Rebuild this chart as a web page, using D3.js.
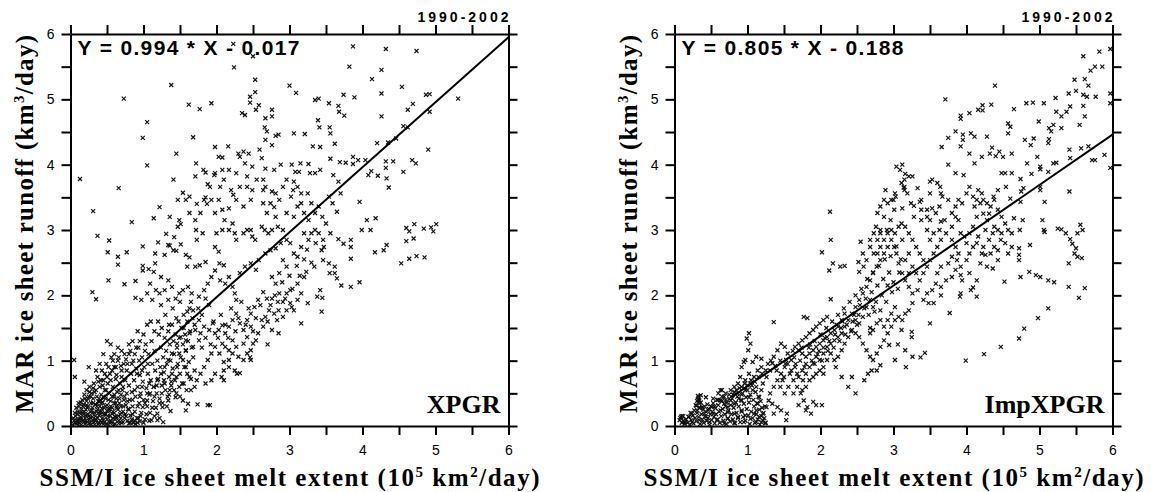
<!DOCTYPE html>
<html><head><meta charset="utf-8">
<script src="https://cdn.jsdelivr.net/npm/d3@7"></script>
<style>body{margin:0;background:#fff}svg{display:block}</style>
</head><body>
<svg id="c" width="1156" height="492"></svg>
<script>
// ---------- data ----------
const axisTicks = [0,1,2,3,4,5,6];
const minorTicks = [0,0.5,1,1.5,2,2.5,3,3.5,4,4.5,5,5.5,6];
const periodLabel = "1990-2002";
const panelNames = ["XPGR","ImpXPGR"];
const equations = ["Y = 0.994 * X - 0.017","Y = 0.805 * X - 0.188"];
const fitLineXPGR = [[0.34,0.32],[6,5.95]];
const fitLineImp = [[0.78,0.44],[6,4.46]];

const xpgr = [
[2.23,5.85],[2.50,5.66],[3.87,5.81],[4.32,5.77],[4.74,5.74],[2.24,5.49],[3.82,5.50],[1.38,5.22],[2.53,5.30],[2.53,5.11],
[3.00,5.21],[3.09,5.10],[4.13,5.31],[4.26,5.45],[4.26,5.09],[4.54,5.19],[4.87,5.07],[4.92,5.08],[5.31,5.01],[0.73,5.01],
[1.62,4.92],[1.93,4.94],[1.77,4.85],[2.46,5.04],[2.46,4.95],[2.58,4.91],[2.54,4.84],[2.76,4.84],[2.76,4.74],[2.67,4.71],
[2.35,4.79],[2.39,4.76],[3.35,4.99],[3.40,5.01],[3.54,4.94],[3.67,4.90],[3.68,4.81],[3.74,5.07],[3.75,4.75],[3.89,5.03],
[4.26,4.74],[4.62,4.84],[4.69,4.93],[4.56,4.59],[4.62,4.57],[4.92,4.81],[4.46,4.40],[4.35,4.34],[4.90,4.23],[1.05,4.65],
[0.99,4.41],[1.05,3.99],[1.68,4.42],[1.45,4.17],[0.13,3.78],[0.66,3.64],[0.31,3.29],[0.37,2.91],[0.53,2.84],[0.51,2.66],
[0.65,2.59],[0.77,2.66],[0.65,2.47],[0.30,2.05],[0.35,1.94],[0.52,2.23],[0.74,2.17],[0.84,3.12],[0.99,2.75],[0.89,2.22],
[0.89,1.96],[0.99,2.38],[0.99,2.45],[1.07,2.40],[1.20,2.81],[1.22,3.35],[1.14,3.18],[1.36,3.20],[1.31,2.94],[1.42,2.89],
[1.41,2.69],[1.45,2.68],[1.36,2.76],[1.41,3.77],[1.47,3.46],[1.47,3.05],[1.51,3.09],[1.54,3.57],[1.58,3.46],[1.63,3.51],
[1.71,3.82],[1.72,4.02],[1.82,3.92],[1.85,3.50],[1.88,3.70],[1.87,3.40],[1.85,3.88],[1.97,3.84],[1.98,4.27],[2.03,4.12],
[2.08,4.11],[2.16,4.28],[2.05,3.66],[2.10,3.77],[2.20,3.61],[2.23,3.54],[2.30,4.17],[2.32,4.12],[2.37,4.20],[2.44,4.17],
[2.39,4.02],[2.49,3.97],[2.55,3.77],[2.64,3.77],[2.62,4.10],[2.67,3.94],[2.59,4.23],[2.67,4.38],[2.69,4.51],[2.66,4.57],
[2.76,4.30],[2.81,4.44],[2.85,4.46],[2.67,3.66],[2.64,3.61],[2.76,3.59],[2.79,3.92],[2.88,4.00],[3.06,4.48],[3.03,4.00],
[3.06,3.74],[3.05,3.61],[3.02,3.51],[3.08,3.89],[3.13,3.89],[3.15,4.02],[3.21,4.47],[3.26,4.01],[3.28,3.87],[3.32,4.28],
[3.35,3.87],[3.42,4.27],[3.39,4.68],[3.41,4.57],[3.42,3.92],[3.55,4.57],[3.56,4.48],[3.56,4.09],[3.62,4.32],[3.60,3.84],
[3.67,3.74],[3.70,3.56],[3.59,3.41],[3.65,3.28],[3.54,3.51],[3.69,4.04],[3.77,4.03],[3.87,4.12],[3.87,4.01],[3.94,4.07],
[3.96,3.43],[4.04,4.07],[4.08,3.84],[4.12,3.90],[4.21,3.83],[4.20,4.33],[4.32,4.05],[4.32,3.95],[4.42,4.05],[4.36,3.65],
[4.33,3.79],[4.56,3.89],[4.68,4.07],[4.73,4.02],[4.06,3.15],[4.18,3.18],[4.11,3.00],[3.99,3.00],[4.17,2.66],[4.29,2.69],
[4.33,2.77],[4.53,2.49],[4.60,2.83],[4.60,3.03],[4.64,2.98],[4.71,3.09],[4.70,2.87],[4.64,2.56],[4.74,2.60],[4.84,3.02],
[4.85,2.58],[4.94,3.04],[4.97,2.98],[5.01,3.09],[3.84,2.85],[3.84,2.74],[3.84,2.56],[3.84,2.13],[3.96,2.20],[3.74,2.79],
[3.67,2.86],[3.71,2.15],[3.62,2.44],[3.62,2.34],[3.65,2.26],[3.55,2.34],[3.54,2.49],[3.46,2.54],[3.44,2.69],[3.47,2.74],
[3.42,2.08],[3.45,1.96],[3.44,1.75],[3.38,1.98],[3.25,1.88],[3.16,1.57],[3.20,2.28],[3.23,2.36],[3.34,2.44],[3.01,1.88],
[3.03,1.82],[2.91,1.90],[2.85,1.77],[2.79,1.72],[2.69,1.95],[2.76,1.95],[2.85,1.42],[2.70,1.25],[2.54,1.31],[2.47,1.16],
[2.46,1.05],[2.47,1.01],[2.32,0.81],[2.28,0.80],[2.25,0.85],[2.17,0.90],[2.10,0.98],[2.04,1.11],[2.10,0.85],[1.91,0.32],
[1.88,0.32],[1.74,0.33],[1.58,0.24],[1.61,0.34],[1.37,0.23],[1.27,0.06],[1.19,0.09],[1.11,0.09],[0.95,0.07],[0.05,1.01],
[0.06,0.75],[0.25,0.90],[0.19,0.68],
[1.58,2.62],[1.63,2.58],[1.60,2.44],[1.71,2.44],[1.77,2.46],[1.85,2.51],[1.98,2.74],[2.03,2.67],[2.04,2.49],[2.10,2.46],
[2.00,2.95],[2.08,3.00],[2.11,3.15],[2.17,3.00],[2.22,3.10],[2.25,2.95],[2.27,2.85],[2.37,2.95],[2.42,3.00],[2.47,3.00],
[2.49,2.90],[2.53,2.85],[2.62,3.05],[2.66,3.00],[2.71,2.95],[2.76,3.00],[2.84,3.05],[2.91,3.00],[2.96,3.26],[2.81,3.20],
[2.79,3.35],[2.69,3.26],[2.64,3.41],[2.74,3.41],[2.47,3.46],[2.37,3.36],[2.27,3.46],[2.17,3.33],[2.08,3.31],[1.98,3.26],
[1.78,3.26],[1.71,3.15],[1.72,3.00],[1.73,2.85],[1.81,2.95],[1.73,3.40],[1.63,3.26],[1.49,3.15],[1.51,2.78],[1.34,2.77],
[1.29,2.62],[1.16,2.64],[1.16,2.49],[1.14,2.36],[1.24,2.28],[1.34,2.23],[1.39,2.13],[1.29,2.08],[1.22,2.03],[1.09,2.18],
[1.17,2.08],[1.05,2.03],[0.97,1.93],[1.12,1.93],[1.24,1.85],[1.34,1.93],[1.44,1.95],[1.49,2.03],[1.54,2.08],[1.61,2.13],
[1.66,2.03],[1.76,1.98],[1.83,2.08],[1.88,2.18],[1.93,2.28],[1.98,2.38],[2.05,2.23],[2.12,2.18],[2.17,2.28],[2.22,2.13],
[2.25,2.03],[2.27,1.93],[2.32,2.34],[2.39,2.44],[2.47,2.49],[2.54,2.39],[2.58,2.54],[2.67,2.64],[2.74,2.69],[2.81,2.72],
[2.88,2.80],[2.96,2.85],[3.01,2.80],[3.06,2.64],[3.11,2.59],[3.16,2.74],[3.20,2.95],[3.26,2.85],[3.30,2.95],[3.35,3.00],
[3.26,3.15],[3.20,3.26],[3.16,3.41],[3.11,3.36],[3.06,3.20],[3.35,3.26],[3.40,3.36],[3.45,3.20],[3.30,3.41],[3.25,3.56],
[3.16,3.56],[3.11,3.66],[2.96,3.77],[2.91,3.66],[2.86,3.46],[2.81,3.56],[2.49,3.61],[2.42,3.66],[2.32,3.66],[2.42,3.82],
[2.27,3.87],[2.17,3.92],[2.08,3.92],[1.98,3.87],[1.91,3.66],[1.83,3.46],[1.93,3.46],[2.03,3.46],
[1.68,1.77],[1.76,1.62],[1.83,1.52],[1.90,1.47],[1.95,1.57],[1.98,1.42],[2.03,1.47],[2.08,1.54],[2.12,1.42],[2.17,1.52],
[2.22,1.62],[2.27,1.72],[2.32,1.57],[2.37,1.47],[2.42,1.62],[2.47,1.72],[2.52,1.82],[2.57,1.93],[2.62,1.62],[2.67,1.67],
[2.72,1.77],[2.47,1.52],[2.42,1.36],[2.37,1.26],[2.27,1.21],[2.22,1.31],[2.17,1.16],[2.12,1.21],[2.08,1.26],[1.98,1.21],
[1.93,1.11],[1.88,1.01],[1.83,0.90],[1.78,0.80],[1.73,0.70],[1.70,0.60],[1.63,0.75],[1.58,0.90],[1.54,1.01],[1.49,1.11],
[1.58,1.16],[1.68,1.21],[1.76,1.31],[1.78,1.42],[1.71,1.47],[1.63,1.42],[1.58,1.31],[1.51,1.36],[1.46,1.26],[1.39,1.11],
[1.34,1.01],[1.29,0.90],[1.24,0.80],[1.19,0.70],[1.14,0.60],[1.09,0.50],[1.05,0.39],[0.99,0.29],[1.29,0.65],[1.36,0.55],
[1.44,0.44],[1.49,0.60],[1.54,0.39],[1.34,0.39],[1.26,0.29],[1.19,0.19],[1.39,0.80],[1.46,0.90],[2.07,0.75],[2.10,0.70],
[1.98,0.80],[1.93,0.70],[1.85,0.65],[2.17,1.01],[2.22,1.11],[2.30,1.06],[2.37,1.01],[2.42,1.11],[2.50,1.26],[2.57,1.42],
[2.64,1.52],[2.76,1.47],[2.83,1.62],[2.91,1.67],[2.96,1.77],[3.06,1.77],[3.11,1.93],[3.16,2.03],[3.11,2.18],[3.01,2.08],
[2.96,2.03],[2.86,2.03],[2.81,2.18],[2.76,2.28],[2.86,2.34],[2.96,2.44],[2.91,2.54],
[0.03,0.02],[0.05,0.08],[0.07,0.15],[0.08,0.04],[0.10,0.10],[0.10,0.22],[0.12,0.05],[0.12,0.30],[0.14,0.14],[0.15,0.02],
[0.15,0.25],[0.16,0.40],[0.17,0.08],[0.18,0.18],[0.18,0.33],[0.19,0.48],[0.20,0.03],[0.20,0.12],[0.21,0.25],[0.22,0.38],
[0.22,0.55],[0.23,0.06],[0.24,0.18],[0.24,0.30],[0.25,0.45],[0.26,0.10],[0.26,0.60],[0.27,0.22],[0.28,0.35],[0.28,0.02],
[0.29,0.50],[0.30,0.14],[0.30,0.28],[0.31,0.42],[0.32,0.06],[0.32,0.65],[0.33,0.20],[0.34,0.33],[0.35,0.55],[0.35,0.10],
[0.36,0.45],[0.37,0.25],[0.37,0.75],[0.38,0.03],[0.38,0.38],[0.39,0.16],[0.40,0.60],[0.40,0.30],[0.41,0.08],[0.42,0.48],
[0.42,0.22],[0.43,0.85],[0.44,0.36],[0.44,0.12],[0.45,0.70],[0.46,0.28],[0.46,0.04],[0.47,0.55],[0.48,0.18],[0.48,0.42],
[0.49,0.95],[0.50,0.10],[0.50,0.32],[0.51,0.65],[0.52,0.24],[0.52,0.02],[0.53,0.50],[0.54,0.15],[0.54,0.80],[0.55,0.38],
[0.56,0.06],[0.56,1.05],[0.57,0.28],[0.58,0.60],[0.58,0.12],[0.59,0.45],[0.60,0.20],[0.60,0.90],[0.61,0.03],[0.62,0.35],
[0.62,0.72],[0.63,0.14],[0.64,0.52],[0.65,0.25],[0.65,1.00],[0.66,0.08],[0.67,0.42],[0.68,0.65],[0.68,0.18],[0.69,0.30],
[0.70,0.85],[0.70,0.05],[0.71,0.55],[0.72,0.22],[0.73,0.40],[0.74,1.10],[0.74,0.12],[0.75,0.70],[0.76,0.32],[0.77,0.50],
[0.78,0.08],[0.78,0.95],[0.79,0.26],[0.80,0.62],[0.81,0.40],[0.82,0.16],[0.82,1.15],[0.83,0.80],[0.84,0.52],[0.85,0.30],
[0.86,0.05],[0.86,1.00],[0.87,0.70],[0.88,0.22],[0.89,0.45],[0.90,0.88],[0.91,0.12],[0.92,0.60],[0.93,1.20],[0.94,0.35],
[0.95,0.78],[0.96,0.50],[0.97,0.20],[0.98,1.05],[0.99,0.68],[1.00,0.40],[1.01,0.90],[1.02,0.10],[1.03,1.25],[1.04,0.58],
[1.05,0.30],[1.06,0.80],[1.07,1.10],[1.08,0.48],[1.09,0.20],[1.10,0.70],[1.11,1.30],[1.12,0.95],[1.13,0.38],[1.14,0.60],
[1.15,1.15],[1.16,0.85],[1.17,0.28],[1.18,0.50],[1.19,1.00],[1.20,0.72],[1.21,1.40],[1.22,0.42],[1.23,0.90],[1.24,1.20],
[1.25,0.62],[1.26,0.35],[1.27,1.05],[1.28,0.82],[1.29,1.35],[1.30,0.55],[1.31,1.15],[1.32,0.95],[1.33,0.45],[1.34,1.45],
[1.35,0.75],[1.36,1.25],[1.37,1.00],[1.38,0.62],[1.39,1.55],[1.40,0.88],[1.41,1.30],[1.42,1.10],[1.43,0.70],[1.44,1.40],
[1.45,0.50],[1.46,1.20],[1.47,0.95],[1.48,1.60],[1.49,1.35],[1.50,0.80],[1.51,1.05],[1.52,1.50],[1.53,0.65],[1.54,1.25],
[1.55,1.70],[1.56,0.90],[1.57,1.40],[1.58,1.15],[1.59,0.55],[1.60,1.60],[1.61,1.30],[1.62,0.98],[1.63,1.80],[1.64,1.45],
[1.65,0.72],[1.66,1.20],[1.67,1.65],[1.68,1.05],
[0.06,0.05],[0.09,0.18],[0.11,0.02],[0.13,0.10],[0.16,0.20],[0.19,0.07],[0.21,0.16],[0.23,0.28],[0.25,0.04],[0.27,0.13],
[0.29,0.24],[0.31,0.09],[0.33,0.02],[0.34,0.15],[0.36,0.22],[0.39,0.05],[0.41,0.18],[0.43,0.27],[0.45,0.09],[0.47,0.20],
[0.49,0.03],[0.51,0.15],[0.53,0.26],[0.55,0.08],[0.57,0.19],[0.59,0.02],[0.61,0.14],[0.63,0.30],[0.66,0.04],[0.69,0.12],
[0.72,0.06],[0.75,0.18],[0.80,0.04],[0.84,0.10],[0.89,0.03],[0.93,0.12],[0.14,0.36],[0.20,0.42],[0.26,0.52],[0.31,0.58],
[0.38,0.68],[0.44,0.62],[0.50,0.75],[0.57,0.85],[0.63,0.78],[0.69,0.92],[0.76,1.02],[0.72,0.60],[0.66,0.55],[0.60,0.48],
[1.80,1.20],[1.85,1.35],[1.92,1.25],[1.96,1.60],[2.02,1.35],[2.06,1.70],[2.12,1.55],[2.16,1.35],[2.20,1.80],[2.26,1.45],
[2.30,1.65],[2.34,1.90],[2.40,1.55],[2.44,1.80],[2.50,1.45],[2.54,1.65],[2.60,1.85],[2.64,2.05],[2.70,1.60],[2.74,1.85],
[2.80,2.00],[2.84,1.90],[2.90,2.20],[2.94,1.95],[3.00,2.30],[3.04,2.10],[3.10,2.45],[3.14,2.30],[3.20,2.55],[3.24,2.70],
[3.30,2.50],[3.36,2.80],[3.40,2.95],[3.46,2.85],[3.50,3.10],[3.56,2.95],
[1.20,1.60],[1.25,1.50],[1.30,1.70],[1.35,1.55],[1.40,1.80],[1.45,1.65],[1.50,1.90],[1.55,1.50],[1.60,1.75],[1.65,1.90],
[1.70,1.55],[1.75,1.80],[1.80,1.70],[1.85,1.95],[1.90,1.85],
[1.00,1.40],[1.05,1.55],[0.95,1.30],[0.90,1.20],[0.85,1.30],[0.80,1.25],[0.92,1.45],[1.10,1.60],[1.15,1.45],[0.70,1.15],
[0.65,1.20],[0.60,1.10],[0.55,1.25],[0.50,1.30],[0.45,1.10],
[0.04,0.12],[0.06,0.20],[0.08,0.28],[0.09,0.08],[0.11,0.35],[0.13,0.20],[0.15,0.12],[0.17,0.30],[0.19,0.22],[0.21,0.08],
[0.22,0.32],[0.24,0.42],[0.25,0.15],[0.27,0.05],[0.28,0.45],[0.30,0.20],[0.31,0.35],[0.33,0.52],[0.34,0.08],[0.36,0.30],
[0.37,0.12],[0.39,0.42],[0.40,0.22],[0.42,0.35],[0.43,0.05],[0.45,0.45],[0.46,0.18],[0.48,0.30],[0.49,0.55],[0.51,0.22],
[0.52,0.40],[0.54,0.05],[0.55,0.30],[0.57,0.45],[0.58,0.22],[0.60,0.35],[0.61,0.10],[0.63,0.42],[0.64,0.28],[0.66,0.15],
[0.67,0.35],[0.69,0.48],[0.70,0.20],[0.72,0.30],[0.74,0.45],[0.76,0.15],[0.78,0.38],[0.80,0.25],[0.82,0.05],[0.85,0.18],
[0.88,0.08],[0.92,0.05],[0.96,0.15],[1.00,0.05],[1.04,0.18],[1.08,0.08],[1.15,0.15],[1.22,0.12],
[0.35,0.85],[0.40,0.95],[0.42,0.70],[0.47,0.80],[0.52,0.90],[0.55,0.70],[0.58,1.00],[0.62,0.90],[0.66,1.05],[0.70,0.75],
[0.73,0.95],[0.77,0.85],[0.80,1.10],[0.84,0.95],[0.88,1.10],[0.91,0.80],[0.94,1.00],[0.98,0.85],[1.02,1.15],[1.06,0.95],
[0.85,0.40],[0.88,0.55],[0.92,0.30],[0.95,0.45],[0.98,0.60],[1.02,0.35],[1.05,0.50],[1.08,0.65],[1.12,0.28],[1.15,0.45],
[1.18,0.62],[1.22,0.35],[1.25,0.50],[1.28,0.70],[1.32,0.30],[1.35,0.48],[1.38,0.68],[1.42,0.55],[1.45,0.75],[1.50,0.45],
[1.55,0.65],[1.60,0.80],[1.65,0.55],[1.70,0.85]
];

const impxpgr = [
[5.60,5.66],[5.70,5.44],[5.76,5.50],[5.82,5.73],[5.97,5.77],[5.86,5.50],[5.62,5.31],[5.48,5.30],[5.67,5.21],[5.40,5.09],
[5.50,5.13],[5.60,5.07],[5.65,5.04],[5.60,4.90],[5.77,5.04],[5.97,5.09],[5.97,4.94],[5.22,5.02],[5.06,4.94],[4.91,4.95],
[4.82,4.94],[5.23,4.81],[5.30,4.74],[5.37,4.81],[5.42,4.89],[5.62,4.74],[5.55,4.61],[5.30,4.56],[5.19,4.61],[5.13,4.56],
[5.16,4.51],[4.99,4.66],[4.65,4.85],[4.57,4.63],[4.60,4.58],[4.57,4.48],[4.80,4.38],[4.92,4.40],[4.88,4.30],[5.13,4.39],
[5.12,4.33],[5.57,4.25],[5.67,4.28],[5.89,4.15],[5.76,4.07],[5.72,4.07],[5.41,4.23],[5.42,4.10],[5.19,4.02],[5.23,4.03],
[4.97,4.12],[5.01,3.97],[4.83,4.02],[4.62,4.17],[4.50,4.12],[4.39,5.21],[3.71,5.00],[4.04,4.79],[3.92,4.75],[4.16,4.84],
[4.22,4.91],[4.34,4.92],[4.22,4.83],[3.92,4.70],[3.85,4.51],[3.95,4.46],[4.06,4.48],[4.11,4.43],[4.28,4.43],[3.95,4.38],
[3.92,4.28],[3.75,4.41],[3.66,4.27],[3.75,4.00],[3.85,3.87],[3.96,3.84],[4.04,4.17],[4.11,4.02],[4.21,4.12],[4.32,4.17],
[4.35,4.26],[4.40,4.13],[4.45,4.20],[4.53,3.87],[4.48,3.87],[4.62,3.87],[4.74,3.78],[4.78,3.64],[4.75,3.59],[4.89,3.86],
[5.01,3.93],[5.01,3.66],[5.01,3.61],[5.07,3.43],[5.12,3.89],[5.41,3.59],[5.97,3.95],
[5.25,3.02],[5.30,3.01],[5.36,2.95],[5.42,2.86],[5.45,2.79],[5.50,2.72],[5.48,2.64],[5.52,2.59],[5.56,3.08],[5.59,3.00],
[5.52,2.95],[5.40,2.49],[5.58,2.57],[5.06,3.00],[5.07,2.97],[5.04,3.15],[4.87,2.77],[4.86,2.36],[4.95,2.31],[5.01,2.28],
[5.12,2.23],[5.20,2.20],[5.40,2.13],[5.62,2.11],[5.54,1.96],[5.12,1.80],[4.98,1.65],[4.79,1.49],[4.72,1.34],[4.47,1.21],
[4.24,1.10],[3.99,1.00],[4.52,2.21],[4.74,2.28],[4.72,2.54],[4.72,2.62],[4.72,2.72],[4.73,3.00],[4.62,2.95],[4.65,3.18],
[4.77,3.15],[4.74,3.43],[4.60,3.48],[4.43,3.61],[4.37,3.51],[4.54,3.66],[4.09,2.12],[4.14,1.98],[4.06,2.08],[3.91,1.98],
[3.92,2.03],[3.94,2.23],[3.92,2.31],[3.77,1.73],[3.65,2.00],[3.50,1.57],[3.43,1.12],[3.37,1.05],[3.26,1.06],[3.16,1.16],
[3.17,0.90],[3.02,1.01],[2.94,1.24],[3.06,1.25],[3.11,1.47],[3.25,1.44],[3.25,1.36],
[2.02,2.66],[2.13,3.28],[2.14,2.85],[2.12,2.38],[2.17,2.49],[2.27,2.44],[2.33,2.45],[2.14,1.94],[2.59,2.44],[2.52,2.51],
[2.53,2.36],[2.55,2.82],[2.76,3.05],[2.82,3.00],[2.91,3.00],[2.96,3.15],[3.00,3.46],[2.97,3.46],[3.03,3.51],[3.02,3.56],
[3.09,3.92],[3.12,4.00],[3.15,3.77],[3.15,3.66],[3.15,3.61],[3.19,3.56],[3.21,3.82],[3.01,3.31],[3.12,3.33],[3.24,3.41],
[3.28,3.37],[3.36,3.43],[3.28,3.20],[3.38,3.31],[3.38,3.15],[3.46,3.20],[3.50,3.15],[3.50,2.85],[3.46,3.00],[3.55,2.95],
[3.63,3.00],[3.65,3.13],[3.70,3.15],[3.72,2.95],[3.80,3.05],[3.85,3.20],[3.89,3.15],[3.92,2.95],[3.97,2.90],[4.00,2.80],
[4.04,2.95],[4.09,3.05],[4.14,3.20],[4.11,3.36],[4.19,3.41],[4.23,3.25],[4.28,3.15],[4.31,3.25],[4.26,3.00],[4.31,2.85],
[4.36,2.95],[4.38,3.05],[4.43,3.00],[4.47,2.85],[4.43,2.69],[4.33,2.64],[4.26,2.62],[4.19,2.49],[4.28,2.44],[4.36,2.41],
[4.21,2.64],[4.09,2.74],[4.04,2.64],[4.00,2.54],[3.89,2.64],[3.80,2.59],[3.75,2.49],[3.65,2.44],[3.60,2.34],[3.58,2.18],
[3.53,2.08],[3.46,2.03],[3.41,1.93],[3.48,1.88],[3.55,1.88],[3.65,2.13],[3.72,2.23],[3.80,2.28],[3.85,2.39],[3.33,2.08],
[3.26,2.03],[3.21,2.13],[3.16,2.23],[3.12,2.34],[3.07,2.49],[3.04,2.64],[3.01,2.74],[2.97,2.85],[2.92,2.74],[2.87,2.64],
[2.82,2.54],[2.77,2.44],[2.72,2.34],[2.68,2.23],[2.63,2.13],[2.58,2.03],[2.53,1.93],[2.48,1.82],[2.43,1.72],[2.38,1.62],
[2.33,1.52],[2.29,1.42],[2.24,1.36],[2.19,1.31],[2.14,1.26],[2.09,1.21],[2.04,1.11],[1.99,1.01],[1.94,1.06],[1.90,0.96],
[1.85,0.90],[1.80,0.80],[1.75,0.85],[1.70,0.75],[1.65,0.90],[1.60,1.01],[1.55,1.11],[1.51,1.21],[1.46,1.26],[1.41,1.16],
[1.36,1.06],[1.34,0.96],[1.31,0.85],[1.26,0.75],[1.21,0.65],[1.19,0.55],[1.16,0.44],[1.14,0.34],[1.12,0.24],[1.16,0.14],
[1.19,0.06],[1.24,0.04],[1.21,0.19],[1.26,0.29],[1.29,0.39],[1.31,0.50],[1.36,0.60],[1.41,0.70],[1.46,0.80],[1.51,0.90],
[1.53,1.01],[1.58,0.80],[1.63,0.70],[1.68,0.60],[1.73,0.50],[1.77,0.39],[1.82,0.29],[1.87,0.19],[1.94,0.32],[2.02,0.32],
[1.90,0.37],[1.80,0.24],[1.70,0.32],[1.63,0.50],[1.54,0.19],[1.53,0.09],[1.46,0.24],[1.51,0.50],[1.36,0.19],[1.41,0.29],
[1.34,0.34],[2.38,0.60],[2.48,0.50],[2.29,0.75],[2.21,0.90],[2.43,0.75],[2.60,0.70],[2.65,0.80],[2.70,0.85],[2.72,1.01],
[2.77,1.11],[2.82,1.21],[2.87,1.31],[2.92,1.42],[2.97,1.52],[3.02,1.62],[3.07,1.67],[3.12,1.62],[3.16,1.72],[3.21,1.77],
[3.26,1.88],[2.77,0.85],[2.82,0.93],[2.68,1.06],[2.63,1.16],[2.58,1.26],[2.53,1.36],[2.48,1.42],[2.43,1.47],[2.38,1.36],
[2.33,1.26],[2.29,1.16],[2.24,1.06],[2.19,1.01],[2.14,1.11],[2.09,1.01],[2.04,0.90],[1.99,0.85],[1.94,0.80],[1.90,0.75],
[1.85,0.70],[1.80,0.60],[1.75,0.55],[2.68,1.42],[2.72,1.47],[2.77,1.57],[2.82,1.62],[2.87,1.52],[2.92,1.62],[2.97,1.72],
[3.02,1.82],[2.82,1.77],[2.72,1.82],[2.68,1.93],[2.63,1.82],[2.58,1.67],[2.53,1.57],[2.48,1.62],[2.33,1.72],[2.29,1.62],
[2.24,1.52],[2.19,1.47],[2.14,1.42],[2.09,1.36],[2.04,1.31],[1.99,1.26],[1.94,1.21],[1.90,1.16],[1.85,1.11],[1.80,1.06],
[1.75,1.11],[1.70,1.16],[1.65,1.21],[1.70,1.26],[1.75,1.31],[1.80,1.36],[1.85,1.42],[1.90,1.47],[1.94,1.52],[1.99,1.57],
[2.04,1.62],[2.09,1.67],[1.82,1.65],[1.77,1.67],[1.36,1.59],[2.04,0.80],
[3.04,3.97],[3.11,3.72],[3.14,3.65],[3.16,3.86],[3.26,3.82],[3.33,3.64],[3.38,3.46],[3.50,3.74],[3.53,3.77],[3.60,3.72],
[3.64,3.66],[3.65,3.56],[3.50,3.56],[3.46,3.31],[3.53,3.33],[3.58,3.26],[3.63,3.36],[3.67,3.51],[3.75,3.46],[3.80,3.26],
[3.85,3.36],[3.89,3.46],[3.94,3.41],[4.00,3.56],[4.04,3.66],[4.09,3.51],[4.14,3.46],[4.16,3.61],[4.21,3.56],[4.23,3.46],
[4.28,3.41],[4.33,3.36],[4.38,3.46],[4.43,3.31],[4.48,3.20],[4.53,3.10],[4.57,3.00],[4.48,2.95],[4.53,2.80],[4.57,2.64],
[4.62,2.74],[4.38,2.74],[4.16,2.90],[4.14,2.80],[4.23,2.74],[2.78,3.26],[2.82,3.36],[2.87,3.20],[2.92,3.41],[2.87,3.46],
[2.89,3.61],[2.82,2.95],[2.78,2.85],[2.73,2.95],[2.68,2.85],[2.68,2.74],[2.73,2.64],[2.63,2.54],[2.58,2.64],[2.78,2.64],
[2.82,2.74],[2.87,2.85],[2.92,2.95],[2.97,3.00],[3.02,2.95],[3.07,3.05],[3.11,3.10],[3.16,3.05],[3.21,2.95],[3.26,2.85],
[3.31,2.74],[3.36,2.64],[3.41,2.54],[3.46,2.44],[3.50,2.54],[3.55,2.64],[3.60,2.74],[3.65,2.85],[3.21,2.64],[3.16,2.54],
[3.26,2.44],[3.31,2.34],[3.36,2.23],[3.41,2.34],[3.21,2.34],[3.80,2.85],[3.85,2.74],[3.87,2.54],[3.92,2.44],[4.04,2.34],
[4.14,2.23],[4.43,2.54],
[0.99,1.34],[1.02,1.42],[1.04,1.26],[1.01,1.16],[0.97,1.01],[0.95,0.98],[1.07,0.98],[1.12,1.06],[1.19,1.03],[0.92,0.90],
[1.02,0.80],[0.97,0.70],[0.90,0.75],[0.87,0.65],[0.82,0.60],[0.77,0.55],[0.70,0.50],[0.65,0.55],[0.60,0.50],[0.63,0.39],
[0.53,0.42],[0.43,0.44],[0.36,0.47],[0.34,0.39],[0.38,0.29],[0.31,0.24],[0.24,0.19],[0.19,0.14],[0.09,0.14],[0.07,0.09],
[0.14,0.06],[0.24,0.06],[0.34,0.09],[0.43,0.14],[0.53,0.19],[0.63,0.24],[0.73,0.29],[0.82,0.34],[0.92,0.39],[1.02,0.44],
[1.07,0.55],[1.12,0.60],[0.58,0.09],[0.73,0.11],[0.87,0.14],[0.97,0.16],[1.04,0.11],[1.09,0.19],[0.92,0.24],[0.82,0.19],
[0.73,0.21],[0.68,0.34],[0.77,0.39],[0.87,0.50],[0.97,0.55],[1.04,0.65],[1.09,0.75],[1.14,0.85],[1.19,0.90],[0.92,0.60],
[0.51,0.29],[0.46,0.24],[0.41,0.19],[0.48,0.06],[0.68,0.04],[0.82,0.05],[0.95,0.06],[1.12,0.06],[0.32,0.46],[0.33,0.42],
[0.31,0.38],[0.34,0.35],[0.30,0.31],[0.35,0.28],[0.10,0.15],[0.12,0.15],
[0.08,0.12],[0.10,0.05],[0.12,0.08],[0.14,0.03],[0.16,0.10],[0.18,0.05],[0.20,0.14],[0.21,0.02],[0.22,0.20],[0.23,0.09],
[0.25,0.16],[0.26,0.04],[0.27,0.24],[0.28,0.12],[0.29,0.32],[0.30,0.07],[0.31,0.20],[0.32,0.40],[0.33,0.45],[0.33,0.14],
[0.34,0.28],[0.35,0.03],[0.36,0.36],[0.37,0.18],[0.38,0.10],[0.39,0.25],[0.40,0.05],[0.41,0.30],[0.42,0.15],[0.43,0.22],
[0.44,0.08],[0.45,0.33],[0.46,0.12],[0.47,0.26],[0.48,0.02],[0.49,0.18],[0.50,0.30],[0.51,0.09],[0.52,0.22],[0.53,0.35],
[0.54,0.14],[0.55,0.04],[0.56,0.27],[0.57,0.18],[0.58,0.40],[0.59,0.10],[0.60,0.32],[0.61,0.22],[0.62,0.05],[0.63,0.55],
[0.64,0.15],[0.65,0.38],[0.66,0.26],[0.67,0.08],[0.68,0.45],[0.69,0.18],[0.70,0.30],[0.71,0.03],[0.72,0.36],[0.73,0.12],
[0.74,0.24],[0.75,0.48],[0.76,0.07],[0.77,0.32],[0.78,0.18],[0.79,0.42],[0.80,0.10],[0.81,0.28],[0.82,0.52],[0.83,0.04],
[0.84,0.36],[0.85,0.20],[0.86,0.45],[0.87,0.12],[0.88,0.30],[0.89,0.58],[0.90,0.06],[0.91,0.40],[0.92,0.22],[0.93,0.50],
[0.94,0.14],[0.95,0.34],[0.96,0.65],[0.97,0.08],[0.98,0.44],[0.99,0.26],[1.00,0.55],[1.01,0.16],[1.02,0.36],[1.03,0.03],
[1.04,0.48],[1.05,0.22],[1.06,0.62],[1.07,0.12],[1.08,0.40],[1.09,0.30],[1.10,0.05],[1.11,0.52],[1.12,0.18],[1.13,0.35],
[1.14,0.10],[1.15,0.45],[1.16,0.25],[1.17,0.02],[1.18,0.38],[1.19,0.15],[1.20,0.28],[1.21,0.08],[1.22,0.20],[1.23,0.12],
[1.24,0.30],[1.25,0.05],
[1.40,0.85],[1.45,1.00],[1.48,0.70],[1.52,0.95],[1.56,0.60],[1.60,0.85],[1.64,1.05],[1.68,0.80],[1.72,1.00],[1.76,0.70],
[1.80,0.95],[1.84,1.20],[1.88,1.00],[1.92,1.30],[1.96,1.10],[2.00,1.40],[2.04,1.20],[2.08,1.50],[2.12,1.30],[2.16,1.60],
[2.20,1.40],[2.24,1.70],[2.28,1.50],[2.32,1.80],[2.36,1.55],[2.40,1.90],[2.44,1.60],[2.48,2.00],[2.52,1.70],[2.56,2.10],
[2.60,1.80],[2.64,2.25],[2.68,1.50],[2.72,2.35],[2.76,1.90],[2.80,2.45],[2.84,2.00],[2.88,2.55],[2.92,2.15],[2.96,2.60],
[3.00,2.20],[3.04,2.75],[3.08,2.35],[3.12,2.85],
[1.45,0.60],[1.50,0.75],[1.55,0.95],[1.62,1.15],[1.66,0.95],[1.74,1.20],[1.78,0.90],[1.86,1.25],[1.92,0.95],[1.98,1.15],
[2.02,1.00],[2.06,1.35],[2.10,1.15],[2.18,1.20],[2.22,1.55],[2.26,1.30],[2.30,1.60],[2.34,1.40],[2.42,1.45],[2.46,1.70],
[2.50,1.55],[2.54,1.85],[2.62,1.95],[2.66,1.70],[2.70,2.05],[2.74,1.75],[2.78,2.15],[2.86,2.25],[2.90,1.90],[2.94,2.35],
[2.98,2.05],[3.06,2.10],[3.10,2.55],
[0.55,0.30],[0.60,0.40],[0.65,0.45],[0.70,0.40],[0.75,0.42],[0.80,0.48],[0.85,0.55],[0.88,0.42],[0.92,0.48],[0.96,0.58],
[1.00,0.62],[1.05,0.70],[1.10,0.68],[1.15,0.75],[1.20,0.80],[1.25,0.85],[1.28,0.95],[1.32,1.00],[1.38,0.92]
];

// ---------- drawing ----------
const svg = d3.select("#c");
svg.append("rect").attr("width",1156).attr("height",492).attr("fill","#fff");

const panels = [
  {data:xpgr, line:fitLineXPGR, eq:equations[0], name:panelNames[0], left:70.5},
  {data:impxpgr, line:fitLineImp, eq:equations[1], name:panelNames[1], left:674.5}
];
const plotTop = 34, plotBottom = 426, plotWidth = 438;
const sans = "'Liberation Sans', Arial, Helvetica, sans-serif";
const serif = "'Liberation Serif', 'Times New Roman', serif";

panels.forEach(p => {
  const x = d3.scaleLinear().domain([0,6]).range([p.left, p.left+plotWidth]);
  const y = d3.scaleLinear().domain([0,6]).range([plotBottom, plotTop]);
  const g = svg.append("g");
  const fmt = d => Number.isInteger(d) ? String(d) : "";
  const styleAxis = sel => {
    sel.selectAll("path.domain").attr("stroke","#000").attr("stroke-width",2);
    sel.selectAll(".tick line").attr("stroke","#000").attr("stroke-width",2);
    sel.selectAll("text").attr("font-family",sans).attr("font-size",14).attr("fill","#000");
  };
  g.append("g").attr("transform",`translate(0,${plotBottom})`)
    .call(d3.axisBottom(x).tickValues(minorTicks).tickFormat(fmt).tickSize(9).tickSizeOuter(0).tickPadding(10)).call(styleAxis);
  g.append("g").attr("transform",`translate(0,${plotTop})`)
    .call(d3.axisTop(x).tickValues(minorTicks).tickFormat("").tickSize(9).tickSizeOuter(0)).call(styleAxis);
  g.append("g").attr("transform",`translate(${p.left},0)`)
    .call(d3.axisLeft(y).tickValues(minorTicks).tickFormat(fmt).tickSize(9).tickSizeOuter(0).tickPadding(7)).call(styleAxis);
  g.append("g").attr("transform",`translate(${p.left+plotWidth},0)`)
    .call(d3.axisRight(y).tickValues(minorTicks).tickFormat("").tickSize(9).tickSizeOuter(0)).call(styleAxis);

  // points
  g.append("g").selectAll("path").data(p.data).join("path")
    .attr("transform", d => `translate(${x(d[0])},${y(d[1])})`)
    .attr("d","M-2,-2L2,2M-2,2L2,-2")
    .attr("stroke","#111").attr("stroke-width",1.2).attr("fill","none");

  // regression line
  g.append("path").datum(p.line)
    .attr("d", d3.line().x(d=>x(d[0])).y(d=>y(d[1])))
    .attr("stroke","#000").attr("stroke-width",2).attr("fill","none");

  // equation
  g.append("text").attr("x",p.left+7).attr("y",55)
    .attr("font-family",sans).attr("font-weight","bold").attr("font-size",21)
    .attr("textLength",222).attr("lengthAdjust","spacing").text(p.eq);
  // period
  g.append("text").attr("x",p.left+plotWidth).attr("y",22).attr("text-anchor","end")
    .attr("font-family",sans).attr("font-weight","bold").attr("font-size",14)
    .attr("textLength",91).attr("lengthAdjust","spacing").text(periodLabel);
  // panel name
  g.append("text").attr("x",p.left+plotWidth-8).attr("y",413).attr("text-anchor","end")
    .attr("font-family",serif).attr("font-weight","bold").attr("font-size",26).text(p.name);

  // x title
  const xt = g.append("text").attr("x",p.left+plotWidth/2).attr("y",486).attr("text-anchor","middle")
    .attr("font-family",serif).attr("font-weight","bold").attr("font-size",25)
    .attr("textLength",500).attr("lengthAdjust","spacing");
  xt.append("tspan").text("SSM/I ice sheet melt extent (10");
  xt.append("tspan").attr("dy",-9).attr("font-size",15).text("5");
  xt.append("tspan").attr("dy",9).text(" km");
  xt.append("tspan").attr("dy",-9).attr("font-size",15).text("2");
  xt.append("tspan").attr("dy",9).text("/day)");

  // y title
  const yt = g.append("text").attr("transform",`translate(${p.left-38},224) rotate(-90)`)
    .attr("text-anchor","middle").attr("font-family",serif).attr("font-weight","bold").attr("font-size",25)
    .attr("textLength",378).attr("lengthAdjust","spacing");
  yt.append("tspan").text("MAR ice sheet runoff (km");
  yt.append("tspan").attr("dy",-9).attr("font-size",15).text("3");
  yt.append("tspan").attr("dy",9).text("/day)");
});
</script>
</body></html>
